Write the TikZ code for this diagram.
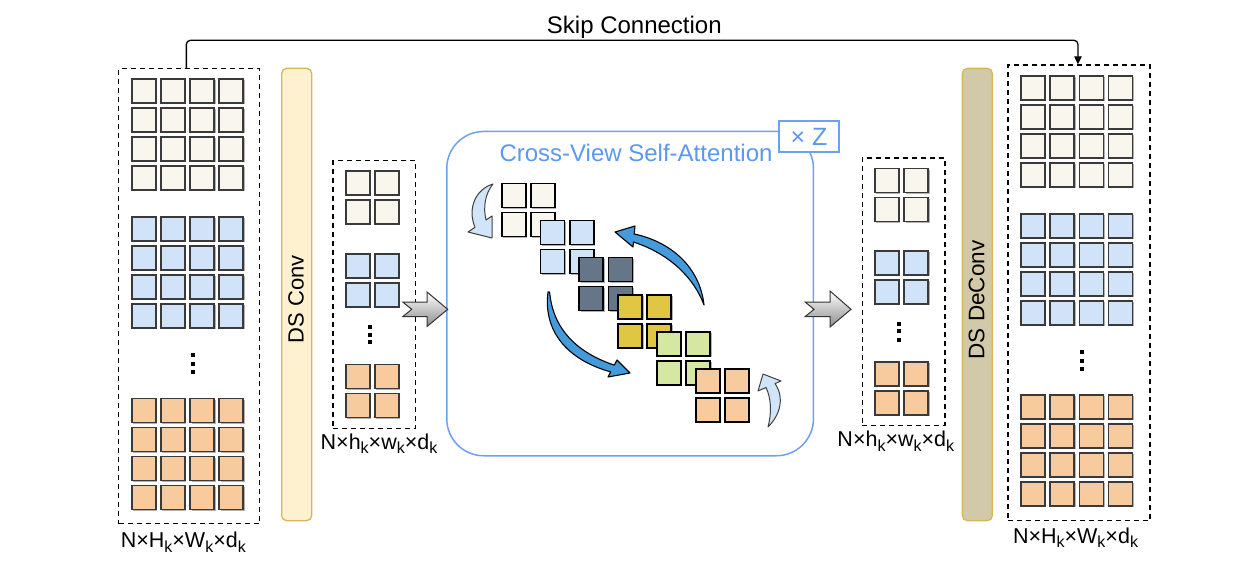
\documentclass[tikz,border=0pt]{standalone}
\usepackage{fontspec}
\setmainfont{Liberation Sans}
\usetikzlibrary{shadows,arrows.meta}
\definecolor{cream}{HTML}{F9F7ED}
\definecolor{lblue}{HTML}{D0E3F9}
\definecolor{orng}{HTML}{F7CB9D}
\definecolor{slate}{HTML}{647687}
\definecolor{ylw}{HTML}{DFC744}
\definecolor{lgrn}{HTML}{D4E8A2}
\definecolor{sqline}{HTML}{3A3A3A}
\definecolor{convfill}{HTML}{FDF1CF}
\definecolor{deconvfill}{HTML}{D2C9A9}
\definecolor{barline}{HTML}{D6B656}
\definecolor{attn}{HTML}{6CA2F0}
\definecolor{attntext}{HTML}{5B98EE}
\definecolor{darrow}{HTML}{449BDC}
\definecolor{larrow}{HTML}{D0E4FA}
\newcommand\fs[1]{\fontsize{#1}{#1}\selectfont}
\newcommand\subk{\raisebox{-4.5pt}{\fs{16}k}}
\newcommand\mygrid[7]{%
  \foreach \c in {0,...,#4}{\foreach \r in {0,...,#5}{%
    \node[#7,fill=#6] (#1\c\r) at ({#2+0.8+29.2*\c},{#3+0.8+29*\r}) {};}}}
\begin{document}
\begin{tikzpicture}[x=1pt,y=-1pt,
  sq/.style={draw=sqline,line width=1.7pt,minimum size=24pt,inner sep=0pt,anchor=north west,
     drop shadow={shadow xshift=1.5pt,shadow yshift=-1.5pt,opacity=0.3,fill=black}},
  dsq/.style={sq,draw=black},
  dbox/.style={draw=black,dash pattern=on 5pt off 4pt,line width=1.3pt,anchor=north west,inner sep=0pt},
  bar/.style={draw=barline,line width=1.3pt,rounded corners=5pt,anchor=north west,inner sep=0pt,
     minimum width=30pt,minimum height=452.3pt},
  dimlabel/.style={anchor=base,font=\fs{21.5},inner sep=0pt},
  dotbox/.style={fill=black,minimum width=4.3pt,minimum height=4pt,inner sep=0pt},
  garrow/.style={draw=black!80,line width=1pt,top color=white,bottom color=black!45},
  darr/.style={fill=darrow,draw=black,line width=1.1pt,line join=round},
  larr/.style={fill=larrow,draw=black!75,line width=1pt,line join=round}]
\useasboundingbox (0,0) rectangle (1246,570);

% dashed boxes
\node[dbox,minimum width=141pt,minimum height=455pt] (Lbig) at (118,68) {};
\node[dbox,minimum width=82.7pt,minimum height=267.7pt] (Lsmall) at (332.3,160) {};
\node[dbox,minimum width=82.6pt,minimum height=267.7pt] (Rsmall) at (861.7,157.3) {};
\node[dbox,minimum width=142pt,minimum height=455.7pt] (Rbig) at (1007.3,64.3) {};

% left big grids
\mygrid{La}{130}{77.3}{3}{3}{cream}{sq}
\mygrid{Lb}{130}{215}{3}{3}{lblue}{sq}
\mygrid{Lc}{130}{396.7}{3}{3}{orng}{sq}
% right big grids
\mygrid{Ra}{1019.3}{74}{3}{3}{cream}{sq}
\mygrid{Rb}{1019.3}{212}{3}{3}{lblue}{sq}
\mygrid{Rc}{1019.3}{393.3}{3}{3}{orng}{sq}
% small grids
\mygrid{la}{344}{169.3}{1}{1}{cream}{sq}
\mygrid{lb}{344}{252.3}{1}{1}{lblue}{sq}
\mygrid{lc}{344}{362.7}{1}{1}{orng}{sq}
\mygrid{ra}{873.3}{166.7}{1}{1}{cream}{sq}
\mygrid{rb}{873.3}{249.3}{1}{1}{lblue}{sq}
\mygrid{rc}{873.3}{360}{1}{1}{orng}{sq}

% dots
\foreach \y [count=\i] in {355.3,363.7,372.2}{\node[dotbox] (dLb\i) at (192.8,\y) {};}
\foreach \y [count=\i] in {327.2,334.7,342.2}{\node[dotbox] (dLs\i) at (370,\y) {};}
\foreach \y [count=\i] in {323.8,331.3,339.5}{\node[dotbox] (dRs\i) at (899.2,\y) {};}
\foreach \y [count=\i] in {352,360.5,369.3}{\node[dotbox] (dRb\i) at (1081.7,\y) {};}

% dimension labels
\node[dimlabel] (labLb) at (183.3,547.7) {N×H\subk×W\subk×d\subk};
\node[dimlabel] (labLs) at (379,449) {N×h\subk×w\subk×d\subk};
\node[dimlabel] (labRs) at (895.8,446.7) {N×h\subk×w\subk×d\subk};
\node[dimlabel] (labRb) at (1075.5,543.3) {N×H\subk×W\subk×d\subk};

% bars
\node[bar,fill=convfill] (conv) at (281,67.7) {};
\node[bar,fill=deconvfill] (deconv) at (961.7,67.7) {};
\node[rotate=90,font=\fs{22},inner sep=0pt] (convtxt) at (296,299) {DS Conv};
\node[rotate=90,font=\fs{22.5},inner sep=0pt] (deconvtxt) at (976.7,300) {DS DeConv};

% skip connection
\coordinate (skipy) at (600,40.3);
\draw[line width=1.3pt,rounded corners=4pt,-{Triangle[width=7.5pt,length=8pt]}]
  ([xshift=-2.8pt]Lbig.north) |- (skipy) -| ([xshift=-1pt]Rbig.north);
\node[anchor=base,font=\fs{24},inner sep=0pt] (skiptxt) at (634.3,33.3) {Skip Connection};

% attention block
\node[draw=attn,line width=1.5pt,rounded corners=37pt,anchor=north west,inner sep=0pt,
  minimum width=366.7pt,minimum height=324.3pt] (attnbox) at (446,130.7) {};
\node[draw=attn,fill=white,line width=1.5pt,anchor=north west,inner sep=0pt,
  minimum width=59.7pt,minimum height=30.9pt,font=\fs{25},text=attntext] (zbox) at (778.3,120.3) {× Z};
\node[anchor=base,font=\fs{24},text=attntext,inner sep=0pt] (attntxt) at (636,161.7) {Cross-View Self-Attention};

% diagonal groups
\mygrid{Da}{500}{181.7}{1}{1}{cream}{dsq}
\mygrid{Db}{538.8}{218.8}{1}{1}{lblue}{dsq}
\mygrid{Dc}{577.6}{255.9}{1}{1}{slate}{dsq}
\mygrid{Dd}{616.4}{293}{1}{1}{ylw}{dsq}
\mygrid{De}{655.2}{330.1}{1}{1}{lgrn}{dsq}
\mygrid{Df}{694}{367.2}{1}{1}{orng}{dsq}

% curved arrows
\path[larr] (493,184) .. controls (476,189) and (467,208) .. (475,227.3) -- (468,232) -- (492,238)
  -- (492,216) -- (486,220) .. controls (483,207) and (485,194) .. (493,184) -- cycle;
\path[larr] (768,427) .. controls (780,415) and (785,398) .. (775,383.6) -- (781,381) -- (763,374)
  -- (758,391) -- (766,387.5) .. controls (771,398) and (772,412) .. (768,427) -- cycle;
\path[darr] (615,232) -- (635,226) -- (634.2,234) .. controls (672,242) and (700,268) .. (704,305)
  .. controls (694,278) and (670,254) .. (633.5,242) -- (633,247) -- cycle;
\path[darr] (548,292) .. controls (543,332) and (568,360) .. (610.7,371.9) -- (608,377) -- (630,373)
  -- (617,360) -- (614.3,365.1) .. controls (578,353) and (553,330) .. (549.6,292) -- cycle;

% grey block arrows
\path[garrow] (402.7,302) -- (427,302) -- (427,292) -- (447.7,309.3) -- (427,326.5) -- (427,316.7)
  -- (402.7,316.7) -- (411.7,309.3) -- cycle;
\path[garrow] (805,302) -- (830,302) -- (830,291) -- (851,309.3) -- (830,327) -- (830,316.7)
  -- (805,316.7) -- (814,309.3) -- cycle;
\end{tikzpicture}
\end{document}
